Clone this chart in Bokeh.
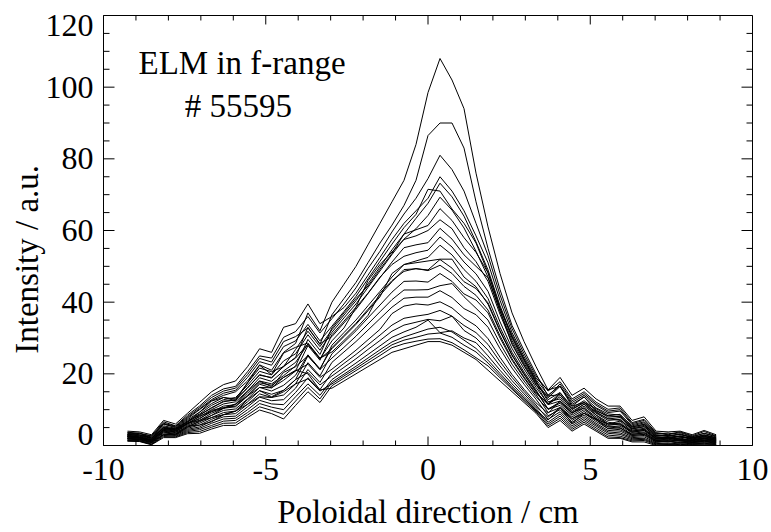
from bokeh.plotting import figure
from bokeh.models import LinearAxis, FixedTicker, Label, Range1d
from bokeh.embed import file_html
from bokeh.resources import INLINE

# channel positions (cm)
X = [-9.26, -8.89, -8.52, -8.15, -7.78, -7.41, -7.04, -6.67, -6.30, -5.93,
     -5.56, -5.19, -4.82, -4.45, -4.08, -3.70, -3.33, -2.96, -2.59, -2.22,
     -1.85, -1.48, -1.11, -0.74, -0.37, 0.00, 0.37, 0.74, 1.11, 1.48,
     1.85, 2.22, 2.59, 2.96, 3.33, 3.70, 4.07, 4.44, 4.81, 5.18,
     5.55, 5.92, 6.29, 6.66, 7.03, 7.40, 7.77, 8.14, 8.51, 8.88]

P01 = [3.2, 3.5, 2.0, 6.0, 5.0, 7.5, 10.0, 12.5, 14.0, 15.0,
       18.0, 22.5, 21.0, 26.0, 28.5, 37.0, 32.0, 40.0, 45.0, 50.0,
       56.0, 62.0, 68.0, 74.0, 84.0, 98.5, 108.0, 102.0, 94.0, 76.0,
       61.0, 48.0, 37.0, 29.0, 22.0, 15.5, 16.5, 11.5, 13.5, 10.5,
       8.8, 8.5, 5.5, 6.3, 3.0, 2.6, 3.3, 2.2, 3.0, 2.2]
P02 = [2.8, 2.4, 1.6, 5.0, 4.4, 6.6, 8.6, 10.4, 12.4, 12.6,
       16.2, 19.6, 19.0, 22.0, 24.6, 33.0, 28.2, 36.5, 41.0, 45.5,
       51.0, 56.5, 61.5, 67.0, 74.0, 86.5, 90.0, 90.0, 83.0, 68.0,
       55.0, 43.5, 33.5, 26.5, 20.0, 13.8, 14.2, 10.2, 12.0, 9.2,
       7.5, 7.0, 4.7, 5.3, 2.4, 2.0, 2.6, 1.8, 2.5, 1.8]
P03 = [3.7, 3.4, 2.7, 6.6, 5.5, 8.5, 11.0, 14.0, 15.8, 16.5,
       20.6, 25.0, 24.4, 30.2, 31.8, 36.0, 31.4, 35.4, 39.5, 44.0,
       49.4, 54.2, 59.6, 64.6, 69.0, 74.5, 81.0, 77.0, 71.0, 62.0,
       53.0, 42.0, 32.6, 25.6, 19.4, 15.2, 17.8, 13.0, 15.0, 12.1,
       10.1, 10.5, 6.4, 7.3, 3.6, 3.2, 3.8, 2.7, 3.9, 2.7]
P04 = [4.0, 3.8, 3.0, 7.0, 6.0, 9.0, 12.0, 15.0, 17.0, 18.0,
       22.0, 27.0, 26.0, 33.0, 34.0, 39.5, 34.0, 36.0, 38.5, 42.5,
       47.5, 52.5, 57.5, 62.0, 65.5, 69.0, 75.0, 71.0, 65.5, 58.5,
       51.0, 40.5, 31.5, 24.8, 18.8, 15.5, 19.0, 14.0, 16.0, 13.0,
       11.0, 11.0, 7.0, 8.0, 4.0, 3.8, 4.0, 3.0, 4.2, 3.0]
P05 = [2.5, 2.2, 1.5, 4.5, 4.0, 6.0, 7.6, 9.4, 11.0, 11.4,
       14.6, 18.0, 17.2, 19.5, 22.2, 29.6, 25.4, 32.8, 37.0, 41.0,
       44.5, 49.2, 53.6, 59.0, 63.4, 67.6, 73.2, 69.4, 64.0, 56.8,
       49.0, 39.0, 30.4, 24.0, 18.0, 12.2, 13.0, 9.0, 11.0, 8.5,
       6.5, 6.0, 4.0, 4.5, 2.0, 2.2, 1.8, 1.5, 2.1, 1.5]
P06 = [3.4, 3.0, 2.4, 6.0, 5.2, 7.8, 10.2, 12.8, 14.6, 15.4,
       19.0, 23.4, 22.4, 27.6, 29.2, 33.8, 29.2, 33.3, 37.4, 41.6,
       46.5, 51.4, 56.2, 60.8, 64.5, 71.5, 71.0, 66.0, 62.0, 56.5,
       48.2, 38.2, 30.8, 24.2, 18.4, 14.1, 16.6, 12.0, 14.0, 11.2,
       9.2, 9.6, 5.8, 6.6, 3.2, 3.5, 3.0, 2.4, 3.4, 2.4]
P07 = [3.0, 2.7, 2.0, 5.2, 4.6, 6.9, 8.8, 11.2, 12.8, 13.4,
       16.8, 20.7, 19.7, 23.6, 25.6, 30.9, 26.6, 31.6, 35.6, 39.5,
       44.1, 48.7, 53.3, 57.6, 60.5, 64.2, 69.3, 65.7, 60.7, 54.2,
       47.0, 37.5, 29.3, 23.0, 17.5, 12.8, 14.8, 10.5, 12.5, 9.9,
       7.9, 8.2, 4.9, 5.6, 2.6, 2.9, 2.3, 2.0, 2.6, 1.9]
P08 = [3.1, 2.9, 2.1, 5.5, 4.8, 7.2, 9.3, 11.7, 13.4, 12.5,
       17.5, 21.6, 20.6, 22.0, 26.8, 31.9, 27.6, 32.3, 36.4, 40.4,
       45.1, 49.8, 54.6, 59.0, 60.2, 61.4, 66.1, 62.8, 58.0, 53.9,
       48.2, 38.4, 30.0, 23.6, 17.8, 13.3, 16.5, 11.0, 12.0, 10.3,
       8.3, 8.7, 5.2, 5.9, 2.8, 2.5, 3.1, 2.1, 2.8, 2.1]
P09 = [2.4, 2.1, 1.4, 4.2, 3.8, 5.7, 7.0, 9.0, 10.4, 10.8,
       13.8, 17.1, 16.1, 18.2, 20.8, 27.9, 23.8, 30.9, 34.7, 38.6,
       46.0, 50.5, 54.0, 57.5, 58.5, 60.0, 63.0, 60.5, 55.2, 51.3,
       45.8, 36.6, 28.6, 22.5, 17.1, 11.4, 12.4, 8.5, 10.5, 8.0,
       6.0, 5.7, 3.7, 4.2, 1.8, 2.1, 1.5, 1.4, 1.9, 1.3]
P10 = [3.6, 3.3, 2.6, 6.2, 5.4, 8.1, 10.6, 13.4, 15.2, 16.0,
       19.8, 24.3, 23.3, 29.0, 30.4, 32.8, 28.4, 30.4, 34.2, 38.0,
       42.4, 46.8, 51.2, 55.2, 56.0, 56.6, 60.6, 57.6, 53.2, 50.0,
       46.8, 37.5, 28.2, 22.2, 16.8, 13.7, 17.2, 12.5, 14.5, 11.6,
       9.6, 10.0, 6.1, 7.0, 3.4, 3.0, 3.6, 2.5, 3.4, 2.6]
P11 = [2.6, 2.4, 1.6, 4.8, 4.2, 6.3, 8.0, 10.0, 11.6, 12.2,
       15.2, 18.9, 17.9, 20.8, 23.2, 28.3, 24.2, 29.2, 32.8, 38.5,
       42.5, 47.0, 50.5, 52.8, 53.8, 54.5, 58.2, 55.4, 51.2, 47.9,
       43.0, 34.5, 27.1, 21.4, 16.2, 11.6, 13.6, 9.5, 11.5, 9.0,
       7.0, 7.3, 4.3, 4.8, 2.2, 1.9, 2.5, 1.6, 2.2, 1.7]
P12 = [2.0, 1.8, 1.0, 3.8, 3.4, 5.1, 6.2, 7.8, 9.2, 9.6,
       12.2, 15.3, 14.3, 15.4, 18.4, 25.0, 21.2, 28.0, 31.5, 35.0,
       39.0, 43.0, 47.0, 50.5, 51.5, 52.5, 55.9, 53.2, 49.1, 45.8,
       41.0, 33.0, 26.0, 20.5, 15.5, 10.1, 11.2, 7.5, 9.5, 7.2,
       5.2, 4.8, 3.1, 3.5, 1.4, 1.6, 1.2, 1.0, 1.5, 1.0]
P13 = [2.8, 2.6, 1.8, 5.0, 4.4, 6.6, 8.4, 10.6, 12.2, 12.8,
       16.0, 19.8, 18.8, 22.2, 24.4, 28.3, 24.2, 27.0, 30.4, 33.8,
       37.6, 41.5, 48.0, 50.5, 51.0, 51.5, 52.0, 52.0, 47.0, 44.3,
       39.4, 31.8, 25.1, 19.8, 15.0, 11.4, 14.2, 10.0, 12.0, 9.4,
       7.4, 7.8, 4.6, 5.2, 2.4, 2.2, 2.7, 1.8, 2.4, 1.8]
P14 = [2.2, 2.0, 1.2, 4.0, 3.6, 5.4, 6.6, 8.4, 9.8, 10.2,
       13.0, 16.2, 15.2, 16.8, 19.6, 25.3, 21.4, 27.3, 30.7, 34.1,
       38.0, 41.9, 45.7, 49.1, 49.3, 49.0, 51.9, 49.5, 45.7, 43.8,
       39.8, 32.1, 25.3, 20.0, 15.1, 10.2, 11.8, 8.0, 10.0, 7.6,
       5.6, 6.0, 3.4, 3.8, 1.6, 1.4, 1.9, 1.2, 1.6, 1.2]
P15 = [3.1, 2.9, 2.1, 4.8, 4.8, 6.6, 9.3, 12.4, 13.4, 13.0,
       17.5, 22.4, 19.8, 25.8, 27.4, 28.6, 24.4, 26.1, 29.3, 32.6,
       36.3, 42.5, 46.0, 48.6, 49.4, 48.8, 50.3, 48.0, 44.4, 41.9,
       37.8, 30.6, 24.2, 19.1, 14.5, 11.7, 14.6, 11.0, 13.6, 9.6,
       8.3, 8.0, 5.2, 5.9, 2.8, 2.8, 2.4, 2.1, 2.9, 2.1]
P16 = [1.9, 1.7, 0.9, 3.5, 3.2, 4.8, 5.7, 7.3, 8.6, 8.9,
       11.5, 14.4, 13.4, 14.1, 17.2, 23.1, 19.4, 25.6, 28.8, 32.0,
       35.6, 39.2, 42.8, 45.8, 45.9, 45.6, 48.0, 45.8, 42.3, 40.6,
       37.0, 30.0, 23.8, 18.8, 14.2, 9.2, 10.6, 7.0, 9.0, 6.7,
       4.7, 4.4, 2.8, 3.1, 1.2, 1.0, 1.5, 0.9, 1.2, 0.8]
P17 = [2.5, 2.3, 1.5, 4.5, 4.6, 6.0, 8.2, 9.5, 10.4, 11.5,
       15.2, 18.0, 16.4, 20.4, 22.0, 25.0, 21.2, 24.4, 27.4, 30.5,
       33.9, 37.3, 40.7, 43.4, 43.4, 43.5, 44.6, 45.2, 41.5, 38.3,
       35.0, 28.5, 22.7, 18.0, 13.6, 10.1, 12.2, 9.0, 11.6, 8.5,
       6.0, 6.8, 4.0, 4.5, 2.0, 2.3, 1.7, 1.5, 2.0, 1.5]
P18 = [1.8, 1.6, 0.8, 3.2, 3.0, 4.5, 5.2, 6.8, 8.0, 8.2,
       10.8, 13.5, 12.5, 12.8, 16.0, 21.2, 17.6, 23.2, 26.1, 29.0,
       32.2, 35.4, 38.6, 41.1, 41.4, 41.4, 43.2, 41.3, 38.2, 36.5,
       33.0, 27.0, 21.6, 17.1, 12.9, 8.3, 10.0, 6.5, 8.5, 6.2,
       4.2, 4.0, 2.5, 2.8, 1.0, 1.2, 0.8, 0.8, 1.0, 0.7]
P19 = [2.4, 2.1, 1.4, 4.2, 3.8, 6.2, 7.0, 8.4, 10.4, 11.6,
       13.8, 16.2, 16.1, 19.0, 20.8, 22.7, 19.0, 21.3, 23.9, 26.6,
       29.5, 32.4, 36.8, 38.9, 39.5, 39.2, 40.1, 38.4, 35.5, 33.4,
       29.8, 24.6, 19.8, 15.7, 11.9, 9.0, 12.4, 9.2, 10.5, 7.4,
       6.0, 6.3, 3.7, 4.2, 1.8, 1.6, 2.1, 1.3, 1.8, 1.4]
P20 = [1.6, 1.4, 0.6, 3.0, 2.8, 4.2, 4.8, 6.2, 7.4, 7.6,
       10.0, 12.6, 11.6, 11.4, 14.8, 18.9, 15.6, 20.3, 22.9, 25.4,
       28.1, 30.8, 33.6, 35.5, 36.1, 36.6, 37.7, 36.1, 33.5, 31.5,
       28.2, 23.4, 19.0, 15.1, 11.3, 7.3, 9.4, 6.0, 8.0, 5.8,
       3.8, 3.5, 2.2, 2.4, 0.8, 0.6, 1.0, 0.6, 0.8, 0.5]
P21 = [2.0, 1.8, 1.0, 3.8, 3.0, 5.1, 6.8, 7.8, 8.6, 9.6,
       12.8, 15.3, 13.6, 15.4, 18.4, 20.4, 16.9, 19.4, 21.8, 24.2,
       26.8, 29.3, 31.9, 33.6, 34.4, 35.2, 34.8, 36.1, 32.1, 30.0,
       26.6, 22.2, 18.1, 14.4, 10.8, 7.9, 10.6, 7.5, 9.0, 7.2,
       5.2, 5.4, 3.1, 3.5, 1.4, 1.2, 1.6, 1.0, 1.4, 1.1]
P22 = [1.4, 1.3, 0.4, 2.8, 2.6, 3.9, 4.4, 5.6, 6.8, 7.0,
       9.2, 11.7, 10.7, 10.0, 13.6, 17.2, 14.0, 18.4, 20.7, 23.0,
       25.4, 27.8, 30.2, 31.7, 33.0, 35.0, 31.5, 32.0, 30.0, 28.7,
       25.0, 21.0, 17.2, 13.7, 10.3, 6.5, 8.8, 5.5, 7.5, 5.4,
       3.4, 3.1, 1.9, 2.0, 0.6, 0.4, 0.7, 0.5, 0.6, 0.4]
P23 = [1.3, 1.2, 0.3, 2.5, 2.4, 3.6, 3.9, 5.1, 6.2, 6.3,
       8.5, 10.8, 9.8, 8.7, 12.4, 16.2, 13.0, 17.7, 19.9, 22.1,
       24.4, 26.7, 28.9, 30.3, 31.4, 32.5, 33.0, 31.7, 29.4, 27.1,
       23.8, 20.1, 16.5, 13.2, 9.9, 6.0, 8.2, 5.0, 7.0, 4.9,
       2.9, 2.6, 1.6, 1.7, 0.4, 0.3, 0.5, 0.3, 0.4, 0.3]
P24 = [1.9, 1.7, 0.9, 3.0, 3.2, 5.4, 5.7, 6.6, 8.6, 9.6,
       11.5, 13.6, 13.4, 15.0, 17.2, 18.6, 15.2, 17.2, 19.4, 21.5,
       23.7, 25.9, 28.1, 29.4, 30.2, 31.1, 31.4, 30.2, 28.0, 26.1,
       23.0, 19.5, 16.1, 12.8, 9.6, 7.1, 10.6, 6.2, 9.0, 7.2,
       4.7, 5.0, 2.8, 3.1, 1.2, 1.0, 1.4, 0.9, 1.2, 0.9]
P25 = [1.2, 1.1, 0.2, 2.2, 2.2, 3.3, 3.4, 4.6, 5.6, 5.6,
       7.8, 9.9, 8.9, 7.4, 11.2, 15.0, 12.0, 16.7, 18.8, 20.9,
       23.0, 25.1, 27.3, 28.4, 29.1, 29.7, 29.8, 28.7, 26.7, 24.5,
       22.2, 18.9, 15.7, 12.5, 9.4, 5.5, 7.6, 4.5, 6.5, 4.4,
       2.4, 2.2, 1.3, 1.4, 0.2, 0.2, 0.3, 0.2, 0.2, 0.2]
P26 = [2.6, 2.2, 1.2, 4.4, 4.2, 6.2, 7.4, 9.8, 10.6, 11.0,
       14.0, 17.5, 16.8, 19.0, 21.0, 20.0, 15.5, 16.0, 18.0, 20.0,
       22.0, 24.0, 26.0, 27.0, 28.0, 29.0, 29.0, 28.0, 26.0, 24.0,
       21.0, 18.0, 15.0, 12.0, 9.0, 5.0, 7.0, 4.0, 6.0, 4.0,
       2.0, 2.0, 1.0, 1.0, 0.0, 0.0, 0.0, 0.0, 0.0, 0.0]

PROFILES = [P01, P02, P03, P04, P05, P06, P07, P08, P09, P10, P11, P12, P13,
            P14, P15, P16, P17, P18, P19, P20, P21, P22, P23, P24, P25, P26]

# axis ticks (IDL style: inward on all four sides)
X_MAJOR = [-10, -5, 0, 5, 10]
X_MINOR = [-9, -8, -7, -6, -4, -3, -2, -1, 1, 2, 3, 4, 6, 7, 8, 9]
Y_MAJOR = [0, 20, 40, 60, 80, 100, 120]
Y_MINOR = [5, 10, 15, 25, 30, 35, 45, 50, 55, 65, 70, 75, 85, 90, 95, 105, 110, 115]
X_TICK_LABELS = {-10: "-10", -5: "-5", 0: "0", 5: "5", 10: "10"}
# the end labels of the y axis are drawn just inside the axis span
Y_LABEL_POS = [3.1, 20, 40, 60, 80, 100, 117.2]
Y_TICK_LABELS = {3.1: "0", 20: "20", 40: "40", 60: "60", 80: "80", 100: "100", 117.2: "120"}

X_TITLE = "Poloidal direction / cm"
Y_TITLE = "Intensity / a.u."
NOTE1 = "ELM in f-range"
NOTE2 = "# 55595"

FONT = "Liberation Serif"
X_MIN, X_MAX, Y_MIN, Y_MAX = -10, 10, 0, 120

W, H = 771, 532
BL, BR, BT, BB = 103, 19, 15, 86
FRAME_W, FRAME_H = W - BL - BR, H - BT - BB

p = figure(width=W, height=H, x_range=Range1d(X_MIN, X_MAX), y_range=Range1d(Y_MIN, Y_MAX),
           output_backend="svg", toolbar_location=None,
           x_axis_type=None, y_axis_type=None,
           min_border_left=BL, min_border_right=BR, min_border_top=BT, min_border_bottom=BB)
p.grid.visible = False
p.outline_line_color = "black"
p.outline_line_width = 1
p.background_fill_color = "white"
p.border_fill_color = "white"


def style_axis(ax):
    ax.axis_line_color = "black"
    ax.major_tick_line_color = None
    ax.minor_tick_line_color = None
    ax.major_tick_in = 0
    ax.major_tick_out = 0
    ax.minor_tick_in = 0
    ax.minor_tick_out = 0
    ax.major_label_text_font = FONT
    ax.major_label_text_color = "black"
    ax.major_label_text_font_size = "32px"
    ax.axis_label_text_font = FONT
    ax.axis_label_text_font_style = "normal"
    ax.axis_label_text_color = "black"
    ax.axis_label_text_font_size = "33px"


xb = LinearAxis(ticker=FixedTicker(ticks=X_MAJOR), axis_label=X_TITLE)
style_axis(xb)
xb.major_label_overrides = X_TICK_LABELS
xb.major_label_standoff = 13
xb.axis_label_standoff = 11
p.add_layout(xb, "below")

# the rotated title sits a little below the middle, as in the original
yl = LinearAxis(ticker=FixedTicker(ticks=Y_LABEL_POS), axis_label=Y_TITLE + "\u00a0" * 7)
style_axis(yl)
yl.major_label_overrides = Y_TICK_LABELS
yl.major_label_standoff = 10
yl.axis_label_standoff = -2
p.add_layout(yl, "left")

# inward tick marks on all four sides (tick length given in pixels)
DX = (X_MAX - X_MIN) / FRAME_W   # data units per pixel, horizontal
DY = (Y_MAX - Y_MIN) / FRAME_H   # data units per pixel, vertical


def xticks(vals, length_px):
    n = len(vals)
    p.segment(x0=vals, y0=[Y_MIN] * n, x1=vals, y1=[Y_MIN + length_px * DY] * n,
              line_color="black", line_width=1)
    p.segment(x0=vals, y0=[Y_MAX] * n, x1=vals, y1=[Y_MAX - length_px * DY] * n,
              line_color="black", line_width=1)


def yticks(vals, length_px):
    n = len(vals)
    p.segment(x0=[X_MIN] * n, y0=vals, x1=[X_MIN + length_px * DX] * n, y1=vals,
              line_color="black", line_width=1)
    p.segment(x0=[X_MAX] * n, y0=vals, x1=[X_MAX - length_px * DX] * n, y1=vals,
              line_color="black", line_width=1)


xticks(X_MAJOR, 9)
xticks(X_MINOR, 5)
yticks(Y_MAJOR, 11)
yticks(Y_MINOR, 6)

for ys in PROFILES:
    p.line(X, ys, line_color="black", line_width=1)

p.add_layout(Label(x=-8.92, y=106.7, text=NOTE1, text_font=FONT,
                   text_font_size="33px", text_color="black", text_baseline="alphabetic"))
p.add_layout(Label(x=-7.50, y=94.7, text=NOTE2, text_font=FONT,
                   text_font_size="33px", text_color="black", text_baseline="alphabetic"))

open("out.html", "w").write(file_html(p, INLINE))
